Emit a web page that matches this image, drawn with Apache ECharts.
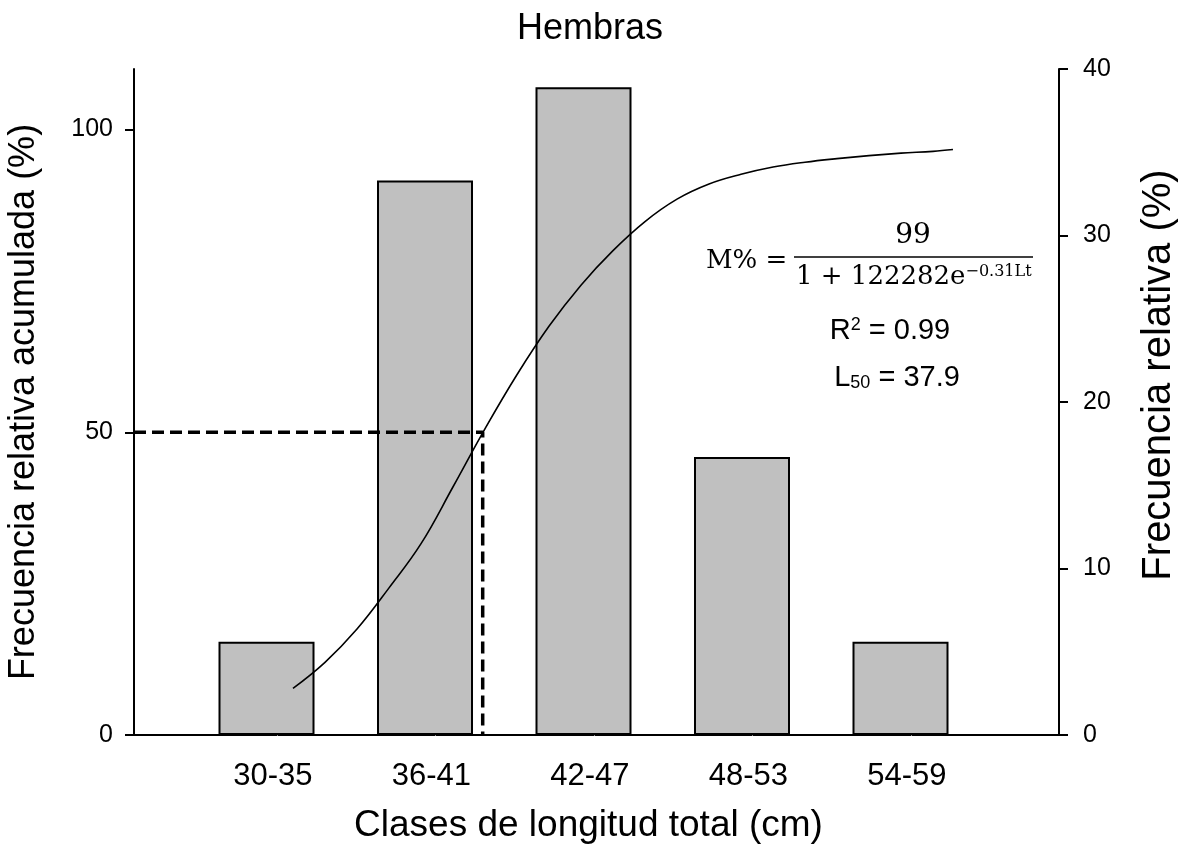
<!DOCTYPE html>
<html><head><meta charset="utf-8">
<script src="https://cdn.jsdelivr.net/npm/echarts@6/dist/echarts.min.js"></script>
<style>html,body{margin:0;padding:0;background:#fff}#c{width:1178px;height:855px}</style>
</head><body><div id="c"></div>
<script>
// ---- data ----
const categories = ['30-35', '36-41', '42-47', '48-53', '54-59'];
const relFreq = [5.6, 33.3, 38.9, 16.7, 5.6];            // Frecuencia relativa (%) – right axis
// cumulative maturity curve (left axis), x in class-position units (1 = first class centre)
const curveX = [1.167, 1.369, 1.571, 1.773, 1.975, 2.177, 2.379, 2.580, 2.782, 2.984, 3.186, 3.388, 3.590, 3.792, 3.994, 4.196, 4.397, 4.599, 4.801, 5.003, 5.205, 5.331];
const curveY = [7.7, 12.0, 17.5, 24.3, 31.6, 41.0, 50.6, 59.5, 67.5, 74.3, 80.0, 84.8, 88.5, 91.0, 92.6, 93.8, 94.6, 95.2, 95.7, 96.1, 96.4, 96.7];
const l50X = 2.364;   // position of L50 on the class axis
const l50Y = 50;
const leftTicks = [0, 50, 100];
const rightTicks = [0, 10, 20, 30, 40];

// ---- chart ----
const SANS = 'Liberation Sans, Arial, sans-serif';
const SERIF = 'DejaVu Serif, serif';
const xMin = 0.164, xMax = 6;
const labelShift = 0.04, dotShift = 0.065;

const chart = echarts.init(document.getElementById('c'));
chart.setOption({
  backgroundColor: '#fff',
  animation: false,
  grid: { left: 134, right: 119, top: 69, bottom: 120, containLabel: false, outerBoundsMode: 'none' },
  xAxis: [
    {
      type: 'value', min: xMin, max: xMax,
      axisLine: { show: true, onZero: false, lineStyle: { color: '#000', width: 2 } },
      axisTick: { show: false },
      splitLine: { show: false },
      axisLabel: {
        customValues: categories.map((c, i) => i + 1 + labelShift),
        formatter: v => categories[Math.round(v) - 1] || '',
        fontSize: 31, fontFamily: SANS, color: '#000', margin: 26
      },
      name: 'Clases de longitud total (cm)', nameLocation: 'middle', nameGap: 72,
      nameTextStyle: { fontSize: 37, fontFamily: SANS, color: '#000', padding: [0, 16, 0, 0] }
    },
    {
      type: 'value', min: xMin, max: xMax, position: 'bottom', offset: 9,
      axisLine: { show: false },
      axisTick: { show: true, length: 1, customValues: categories.map((c, i) => i + 1 + dotShift), lineStyle: { color: '#888', width: 1 } },
      axisLabel: { show: false },
      splitLine: { show: false }
    }
  ],
  yAxis: [
    {
      type: 'value', min: 0, max: 110, position: 'left',
      axisLine: { show: true, lineStyle: { color: '#000', width: 2 } },
      axisTick: { show: true, length: 9, customValues: leftTicks, lineStyle: { color: '#000', width: 2 } },
      axisLabel: { customValues: leftTicks, fontSize: 25, fontFamily: SANS, color: '#000', margin: 21 },
      splitLine: { show: false },
      name: 'Frecuencia relativa acumulada (%)', nameLocation: 'middle', nameGap: 92, nameRotate: 90,
      nameTextStyle: { fontSize: 36, fontFamily: SANS, color: '#000' }
    },
    {
      type: 'value', min: 0, max: 40, position: 'right',
      axisLine: { show: true, lineStyle: { color: '#000', width: 2 } },
      axisTick: { show: true, length: 9, customValues: rightTicks, lineStyle: { color: '#000', width: 2 } },
      axisLabel: { customValues: rightTicks, fontSize: 25, fontFamily: SANS, color: '#000', margin: 24 },
      splitLine: { show: false },
      name: 'Frecuencia relativa (%)', nameLocation: 'middle', nameGap: 80, nameRotate: 90,
      nameTextStyle: { fontSize: 40, fontFamily: SANS, color: '#000', padding: [0, 0, 0, 54] }
    }
  ],
  series: [
    {
      type: 'bar', xAxisIndex: 0, yAxisIndex: 1, barWidth: 96,
      data: relFreq.map((v, i) => [i + 1, v]),
      itemStyle: { color: '#c0c0c0', borderColor: '#000', borderWidth: 2 },
      silent: true, z: 2
    },
    {
      type: 'line', xAxisIndex: 0, yAxisIndex: 0, smooth: 0.4, showSymbol: false,
      data: curveX.map((x, i) => [x, curveY[i]]),
      lineStyle: { color: '#000', width: 1.6 }, silent: true, z: 4
    },
    {
      type: 'line', xAxisIndex: 0, yAxisIndex: 0, showSymbol: false,
      data: [[xMin, l50Y], [l50X, l50Y], [l50X, 0]],
      lineStyle: { color: '#000', width: 3.5, type: [12, 6] }, silent: true, z: 3
    }
  ],
  graphic: [
    { type: 'text', x: 590, y: 29, style: { text: 'Hembras', fontSize: 36, fontFamily: SANS, fill: '#000', align: 'center', verticalAlign: 'middle', textAlign: 'center', textVerticalAlign: 'middle' } },
    { type: 'text', x: 706, y: 261, style: { text: 'M% =', fontSize: 26, fontFamily: SERIF, fill: '#000', align: 'left', verticalAlign: 'middle', textAlign: 'left', textVerticalAlign: 'middle' } },
    { type: 'text', x: 913, y: 236, style: { text: '99', fontSize: 28, fontFamily: SERIF, fill: '#000', align: 'center', verticalAlign: 'middle', textAlign: 'center', textVerticalAlign: 'middle' } },
    { type: 'line', shape: { x1: 794, y1: 257, x2: 1033, y2: 257 }, style: { stroke: '#000', lineWidth: 1.5 } },
    { type: 'text', x: 796, y: 277, style: { text: '1 + 122282e{sup|−0.31Lt}', fontSize: 26, fontFamily: SERIF, fill: '#000', align: 'left', verticalAlign: 'middle', textAlign: 'left', textVerticalAlign: 'middle',
      rich: { sup: { fontSize: 16, fontFamily: SERIF, fill: '#000', verticalAlign: 'top' } } } },
    { type: 'text', x: 890, y: 331, style: { text: 'R{sup|2} = 0.99', fontSize: 29, fontFamily: SANS, fill: '#000', align: 'center', verticalAlign: 'middle', textAlign: 'center', textVerticalAlign: 'middle',
      rich: { sup: { fontSize: 18, fontFamily: SANS, fill: '#000', verticalAlign: 'top' } } } },
    { type: 'text', x: 897, y: 378, style: { text: 'L{sub|50} = 37.9', fontSize: 29, fontFamily: SANS, fill: '#000', align: 'center', verticalAlign: 'middle', textAlign: 'center', textVerticalAlign: 'middle',
      rich: { sub: { fontSize: 18, fontFamily: SANS, fill: '#000', verticalAlign: 'bottom' } } } }
  ]
});
</script></body></html>
